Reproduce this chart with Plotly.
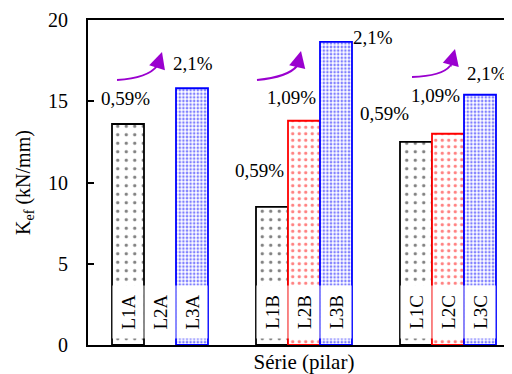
import plotly.graph_objects as go

groups = ["A", "B", "C"]
series = ["L1", "L2", "L3"]
L1 = [13.6, 8.5, 12.5]
L2 = [None, 13.8, 13.0]
L3 = [15.8, 18.65, 15.4]

FONT = "Liberation Serif"
PURPLE = "#9A00CF"

# pixel-to-data helpers for decorations (plot: x 88..520 over 3 categories, y 345..20 for 0..20)
def dx(px):
    return (px - 88) / 144 - 0.5

def dy(py):
    return (345 - py) / 16.25

fig = go.Figure()
styles = [
    dict(color="black", size=8.5, sol=0.12),
    dict(color="red", size=6.5, sol=0.2),
    dict(color="blue", size=3.6, sol=0.4),
]
for name, vals, st in zip(series, [L1, L2, L3], styles):
    fig.add_trace(go.Bar(
        x=groups, y=vals, name=name,
        marker=dict(
            color="white",
            line=dict(color=st["color"], width=1.8),
            pattern=dict(shape=".", fgcolor=st["color"], bgcolor="white",
                         size=st["size"], solidity=st["sol"], fillmode="overlay"),
        ),
        showlegend=False,
    ))

annotations = []
# bar name labels (rotated, white box)
offsets = [-32 / 144, 0, 32 / 144]
for gi, g in enumerate(groups):
    for si, s in enumerate(series):
        annotations.append(dict(
            x=gi + offsets[si], y=dy(312), xref="x", yref="y",
            text=f"{s}{g}", textangle=-90, showarrow=False,
            font=dict(family=FONT, size=19, color="black"),
            bgcolor="white", width=50, height=28,
        ))

# percent labels (positions, in pixels)
pct_pos = [
    ("0,59%", 125, 98), ("2,1%", 193, 63),
    ("0,59%", 259, 170), ("1,09%", 291, 97), ("2,1%", 373, 37),
    ("0,59%", 384, 113), ("1,09%", 435, 95), ("2,1%", 487, 73),
]
for t, px, py in pct_pos:
    annotations.append(dict(
        x=dx(px), y=dy(py), xref="x", yref="y", text=t, showarrow=False,
        font=dict(family=FONT, size=19, color="black"),
    ))

# curved purple arrows
arrows = [
    ((117, 80), (148, 78), (157, 66), (162, 52)),
    ((257, 80), (288, 77), (297, 66), (301, 51)),
    ((412, 77), (442, 76), (450, 66), (455, 49)),
]
shapes = []
for p0, c, p1, tip in arrows:
    shapes.append(dict(
        type="path", xref="x", yref="y",
        path=f"M {dx(p0[0])},{dy(p0[1])} Q {dx(c[0])},{dy(c[1])} {dx(p1[0])},{dy(p1[1])}",
        line=dict(color=PURPLE, width=2),
    ))
    annotations.append(dict(
        x=dx(tip[0]), y=dy(tip[1]), xref="x", yref="y",
        ax=p1[0] - tip[0], ay=p1[1] - tip[1] + 2, axref="pixel", ayref="pixel",
        showarrow=True, arrowhead=2, arrowsize=1.5, arrowwidth=2.2, arrowcolor=PURPLE,
        text="",
    ))

# page body has an 8px margin, so the figure is offset by 8px right/down
fig.update_layout(
    width=512, height=374,
    margin=dict(l=80, r=0, t=12, b=37),
    paper_bgcolor="white", plot_bgcolor="white",
    barmode="group", bargap=1 / 3, bargroupgap=0,
    font=dict(family=FONT, size=20, color="black"),
    annotations=annotations, shapes=shapes,
    xaxis=dict(
        type="category", range=[-0.5, 2.5], showticklabels=False, ticks="",
        showline=True, linecolor="black", linewidth=2, mirror=True, showgrid=False,
        automargin=False,
        title=dict(text="Série (pilar)", font=dict(family=FONT, size=21), standoff=8),
    ),
    yaxis=dict(
        range=[0, 20], tickvals=[0, 5, 10, 15, 20], ticks="inside", ticklen=6,
        tickwidth=2, tickcolor="black", showline=True, linecolor="black", linewidth=2,
        showgrid=False, zeroline=False, ticklabelstandoff=14, automargin=False,
        tickfont=dict(family=FONT, size=20),
        title=dict(text="K<sub>ef</sub> (kN/mm)", font=dict(family=FONT, size=20), standoff=12),
    ),
)

fig.write_html("out.html")
